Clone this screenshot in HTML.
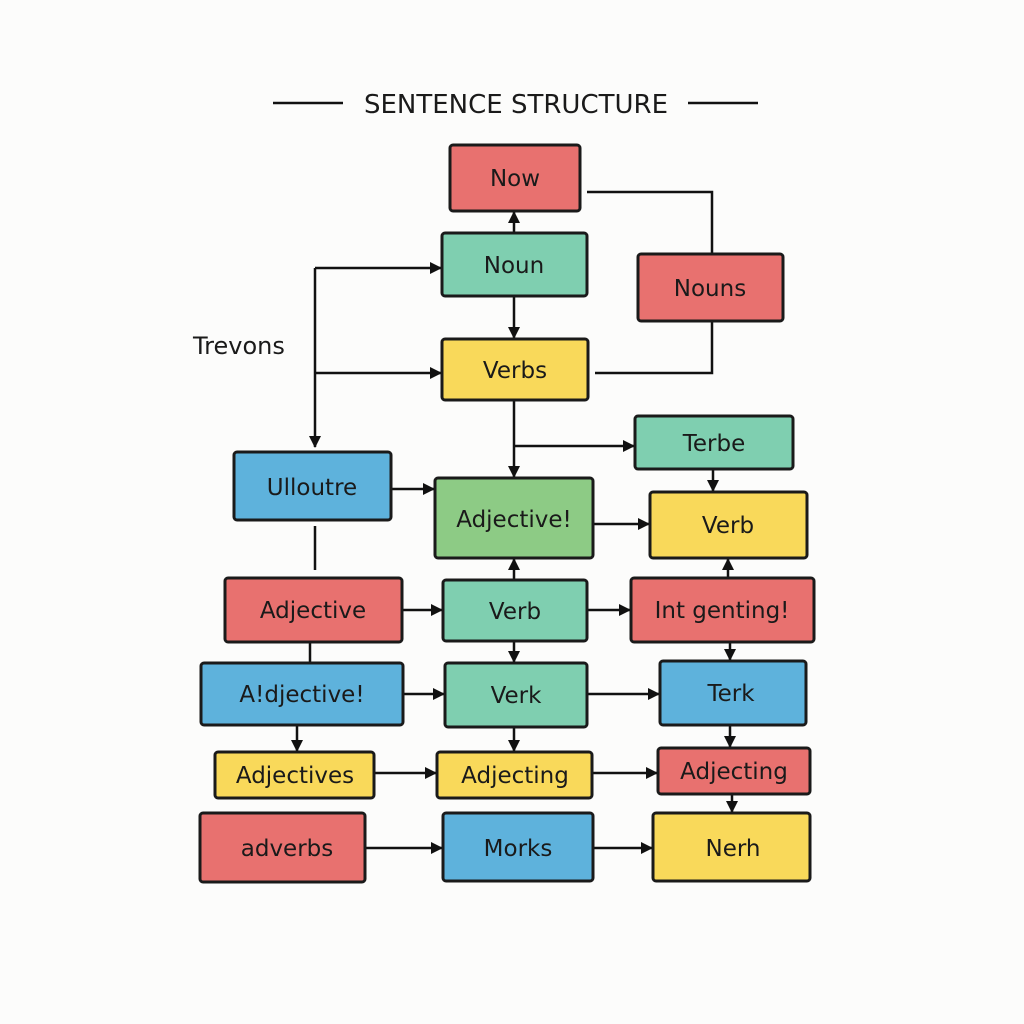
<!DOCTYPE html>
<html><head><style>
html,body{margin:0;padding:0;background:#fcfcfb;}
svg{display:block;}
text{font-family:"DejaVu Sans","Liberation Sans",sans-serif;fill:#1a1a1a;}
</style></head><body>
<svg width="1024" height="1024" viewBox="0 0 1024 1024" xmlns="http://www.w3.org/2000/svg">
<defs>
<marker id="a" viewBox="0 0 10 10" refX="9" refY="5" markerWidth="7" markerHeight="7" orient="auto-start-reverse" markerUnits="userSpaceOnUse">
<path d="M0,0 L10,5 L0,10 z" fill="#111" transform="scale(1)"/>
</marker>
<marker id="b" viewBox="0 0 12 12" refX="11" refY="6" markerWidth="12" markerHeight="12" orient="auto" markerUnits="userSpaceOnUse">
<path d="M0,0 L12,6 L0,12 z" fill="#111"/>
</marker>
</defs>
<rect width="1024" height="1024" fill="#fcfcfb"/>
<!-- title -->
<line x1="273" y1="103" x2="343" y2="103" stroke="#111" stroke-width="2.5"/>
<line x1="688" y1="103" x2="758" y2="103" stroke="#111" stroke-width="2.5"/>
<text x="516" y="113" font-size="26" text-anchor="middle">SENTENCE STRUCTURE</text>
<text x="193" y="354" font-size="24">Trevons</text>

<g stroke="#111" stroke-width="2.5" fill="none">
<line x1="514" y1="233" x2="514" y2="212" marker-end="url(#b)"/>
<polyline points="587,192 712,192 712,254"/>
<polyline points="712,321 712,373 595,373"/>
<line x1="514" y1="296" x2="514" y2="338" marker-end="url(#b)"/>
<line x1="315" y1="268" x2="441" y2="268" marker-end="url(#b)"/>
<line x1="315" y1="268" x2="315" y2="447" marker-end="url(#b)"/>
<line x1="315" y1="373" x2="441" y2="373" marker-end="url(#b)"/>
<line x1="514" y1="400" x2="514" y2="477" marker-end="url(#b)"/>
<line x1="514" y1="446" x2="634" y2="446" marker-end="url(#b)"/>
<line x1="713" y1="469" x2="713" y2="491" marker-end="url(#b)"/>
<line x1="391" y1="489" x2="434" y2="489" marker-end="url(#b)"/>
<line x1="593" y1="524" x2="649" y2="524" marker-end="url(#b)"/>
<line x1="315" y1="526" x2="315" y2="570"/>
<line x1="514" y1="580" x2="514" y2="559" marker-end="url(#b)"/>
<line x1="728" y1="578" x2="728" y2="559" marker-end="url(#b)"/>
<line x1="402" y1="610" x2="442" y2="610" marker-end="url(#b)"/>
<line x1="587" y1="610" x2="630" y2="610" marker-end="url(#b)"/>
<line x1="310" y1="642" x2="310" y2="663"/>
<line x1="514" y1="641" x2="514" y2="662" marker-end="url(#b)"/>
<line x1="730" y1="642" x2="730" y2="660" marker-end="url(#b)"/>
<line x1="403" y1="694" x2="444" y2="694" marker-end="url(#b)"/>
<line x1="587" y1="694" x2="659" y2="694" marker-end="url(#b)"/>
<line x1="297" y1="725" x2="297" y2="751" marker-end="url(#b)"/>
<line x1="514" y1="727" x2="514" y2="751" marker-end="url(#b)"/>
<line x1="730" y1="725" x2="730" y2="747" marker-end="url(#b)"/>
<line x1="374" y1="773" x2="436" y2="773" marker-end="url(#b)"/>
<line x1="592" y1="773" x2="657" y2="773" marker-end="url(#b)"/>
<line x1="732" y1="794" x2="732" y2="812" marker-end="url(#b)"/>
<line x1="365" y1="848" x2="442" y2="848" marker-end="url(#b)"/>
<line x1="593" y1="848" x2="652" y2="848" marker-end="url(#b)"/>
</g>

<g stroke="#1a1a1a" stroke-width="3">
<rect x="450" y="145" width="130" height="66" rx="3" fill="#e8716f"/>
<rect x="442" y="233" width="145" height="63" rx="3" fill="#7fcfb0"/>
<rect x="638" y="254" width="145" height="67" rx="3" fill="#e8716f"/>
<rect x="442" y="339" width="146" height="61" rx="3" fill="#f9d95a"/>
<rect x="635" y="416" width="158" height="53" rx="3" fill="#7fcfb0"/>
<rect x="234" y="452" width="157" height="68" rx="3" fill="#5eb2dc"/>
<rect x="435" y="478" width="158" height="80" rx="3" fill="#8dcb85"/>
<rect x="650" y="492" width="157" height="66" rx="3" fill="#f9d95a"/>
<rect x="225" y="578" width="177" height="64" rx="3" fill="#e8716f"/>
<rect x="443" y="580" width="144" height="61" rx="3" fill="#7fcfb0"/>
<rect x="631" y="578" width="183" height="64" rx="3" fill="#e8716f"/>
<rect x="201" y="663" width="202" height="62" rx="3" fill="#5eb2dc"/>
<rect x="445" y="663" width="142" height="64" rx="3" fill="#7fcfb0"/>
<rect x="660" y="661" width="146" height="64" rx="3" fill="#5eb2dc"/>
<rect x="215" y="752" width="159" height="46" rx="3" fill="#f9d95a"/>
<rect x="437" y="752" width="155" height="46" rx="3" fill="#f9d95a"/>
<rect x="658" y="748" width="152" height="46" rx="3" fill="#e8716f"/>
<rect x="200" y="813" width="165" height="69" rx="3" fill="#e8716f"/>
<rect x="443" y="813" width="150" height="68" rx="3" fill="#5eb2dc"/>
<rect x="653" y="813" width="157" height="68" rx="3" fill="#f9d95a"/>
</g>

<g font-size="23" text-anchor="middle">
<text x="515" y="186">Now</text>
<text x="514" y="273">Noun</text>
<text x="710" y="296">Nouns</text>
<text x="515" y="378">Verbs</text>
<text x="714" y="451">Terbe</text>
<text x="312" y="495">Ulloutre</text>
<text x="514" y="527">Adjective!</text>
<text x="728" y="533">Verb</text>
<text x="313" y="618">Adjective</text>
<text x="515" y="619">Verb</text>
<text x="722" y="618">Int genting!</text>
<text x="302" y="702">A!djective!</text>
<text x="516" y="703">Verk</text>
<text x="731" y="701">Terk</text>
<text x="295" y="783">Adjectives</text>
<text x="515" y="783">Adjecting</text>
<text x="734" y="779">Adjecting</text>
<text x="287" y="856">adverbs</text>
<text x="518" y="856">Morks</text>
<text x="733" y="856">Nerh</text>
</g>
</svg>
</body></html>
